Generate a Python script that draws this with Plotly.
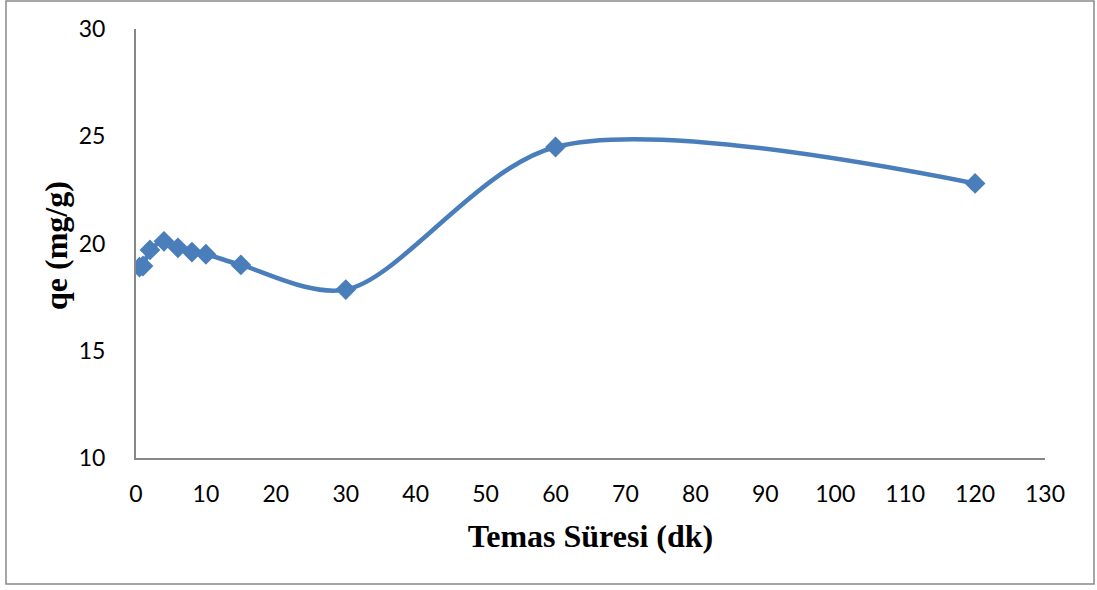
import plotly.graph_objects as go

time_min = [0.5, 1, 2, 4, 6, 8, 10, 15, 30, 60, 120]
qe_values = [18.9, 18.95, 19.7, 20.1, 19.8, 19.6, 19.5, 19.0, 17.85, 24.5, 22.8]

x_ticks = list(range(0, 131, 10))
y_ticks = [10, 15, 20, 25, 30]

color = "#4a7ebb"
fig = go.Figure()
fig.add_trace(go.Scatter(
    x=time_min, y=qe_values, mode="lines+markers",
    line=dict(color=color, width=4.5, shape="spline", smoothing=0.9),
    marker=dict(symbol="diamond", size=16, color=color),
    showlegend=False,
))

axis_font = dict(family="Lato, Open Sans, sans-serif", size=23, color="black")
fig.update_layout(
    width=1097, height=590,
    margin=dict(l=136, r=52, t=29, b=132),
    paper_bgcolor="white", plot_bgcolor="white",
    xaxis=dict(range=[0, 130], tickvals=x_ticks, showgrid=False, zeroline=False,
               showline=True, linecolor="#878787", linewidth=2, ticks="",
               tickfont=axis_font, ticklabelstandoff=14,
               title=dict(text="<b>Temas Süresi (dk)</b>",
                          font=dict(family="Liberation Serif, serif", size=32, color="black"),
                          standoff=19)),
    yaxis=dict(range=[10, 30], tickvals=y_ticks, showgrid=False, zeroline=False,
               showline=True, linecolor="#878787", linewidth=2, ticks="",
               tickfont=axis_font, ticklabelstandoff=24),
    annotations=[dict(text="<b>qe (mg/g)</b>", textangle=-90, showarrow=False,
                      xref="paper", yref="paper",
                      x=(56 - 136) / 909, y=(458 - 246) / 429,
                      xanchor="center", yanchor="middle",
                      font=dict(family="Liberation Serif, serif", size=32, color="black"))],
    shapes=[dict(type="rect", xref="paper", yref="paper",
                 x0=(6 - 136) / 909, x1=(1094 - 136) / 909,
                 y0=(458 - 584) / 429, y1=(458 - 1) / 429,
                 line=dict(color="#898989", width=1.5), layer="below")],
)
fig.write_html("out.html")
